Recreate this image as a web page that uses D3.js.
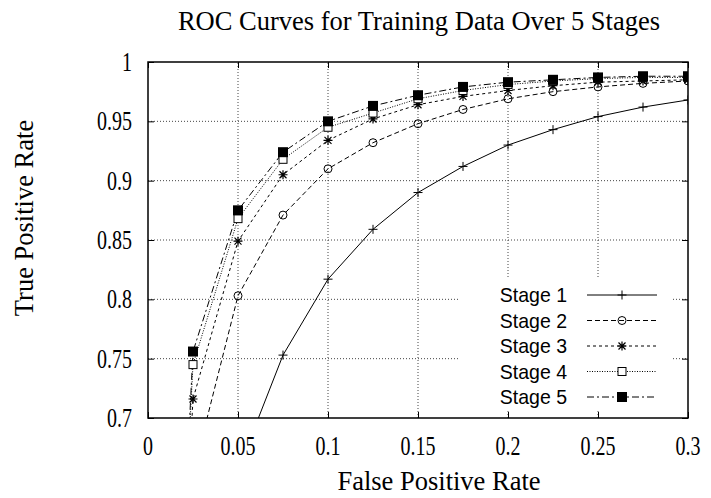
<!DOCTYPE html>
<html><head><meta charset="utf-8">
<script src="https://cdn.jsdelivr.net/npm/d3@7"></script>
<style>body{margin:0;background:#fff}svg{display:block}</style>
</head><body>
<script>
const fpr = [0, 0.025, 0.05, 0.075, 0.1, 0.125, 0.15, 0.175, 0.2, 0.225, 0.25, 0.275, 0.3];
const stage1 = [null, null, 0.656, 0.753, 0.817, 0.859, 0.890, 0.912, 0.930, 0.943, 0.954, 0.962, 0.968];
const stage2 = [0, 0.653, 0.803, 0.871, 0.910, 0.932, 0.948, 0.960, 0.969, 0.975, 0.979, 0.982, 0.984];
const stage3 = [0, 0.716, 0.849, 0.905, 0.934, 0.952, 0.964, 0.971, 0.976, 0.980, 0.983, 0.984, 0.985];
const stage4 = [0, 0.745, 0.868, 0.918, 0.945, 0.957, 0.969, 0.976, 0.981, 0.984, 0.986, 0.987, 0.987];
const stage5 = [0, 0.756, 0.875, 0.924, 0.950, 0.963, 0.972, 0.979, 0.983, 0.985, 0.987, 0.988, 0.988];
const seriesNames = ["Stage 1", "Stage 2", "Stage 3", "Stage 4", "Stage 5"];
const xTicks = [0, 0.05, 0.1, 0.15, 0.2, 0.25, 0.3];
const yTicks = [0.7, 0.75, 0.8, 0.85, 0.9, 0.95, 1];
const xTickLabels = ["0", "0.05", "0.1", "0.15", "0.2", "0.25", "0.3"];
const yTickLabels = ["0.7", "0.75", "0.8", "0.85", "0.9", "0.95", "1"];

const W = 711, H = 498;
const m = {left: 148, right: 711 - 688, top: 62, bottom: 498 - 418};
const svg = d3.select("body").append("svg").attr("width", W).attr("height", H);
const x = d3.scaleLinear().domain([0, 0.3]).range([m.left, W - m.right]);
const y = d3.scaleLinear().domain([0.7, 1]).range([H - m.bottom, m.top]);
const serif = "'Liberation Serif','Times New Roman',serif";
const sans = "'Liberation Sans',Arial,sans-serif";

// grid
const g = svg.append("g");
g.selectAll(".gx").data(xTicks.slice(1, -1)).join("line")
  .attr("x1", d => x(d)).attr("x2", d => x(d)).attr("y1", y(0.7)).attr("y2", y(1))
  .attr("stroke", "#444").attr("stroke-width", 1).attr("stroke-dasharray", "1,2");
g.selectAll(".gy").data(yTicks.slice(1, -1)).join("line")
  .attr("x1", x(0)).attr("x2", x(0.3)).attr("y1", d => y(d)).attr("y2", d => y(d))
  .attr("stroke", "#444").attr("stroke-width", 1).attr("stroke-dasharray", "1,2");

// axes (ticks inward, mirrored), labels drawn separately
const ax = (gen, tr) => svg.append("g").attr("transform", tr).call(gen)
  .call(s => s.select(".domain").remove());
ax(d3.axisBottom(x).tickValues(xTicks).tickSize(-6).tickFormat(""), `translate(0,${y(0.7)})`);
ax(d3.axisTop(x).tickValues(xTicks).tickSize(-6).tickFormat(""), `translate(0,${y(1)})`);
ax(d3.axisLeft(y).tickValues(yTicks).tickSize(-6).tickFormat(""), `translate(${x(0)},0)`);
ax(d3.axisRight(y).tickValues(yTicks).tickSize(-6).tickFormat(""), `translate(${x(0.3)},0)`);
svg.selectAll(".tick line").attr("stroke", "#000");

const TS = 20, TSY = 1.36;
svg.append("g").selectAll("text").data(xTicks).join("text")
  .attr("transform", d => `translate(${x(d)},455) scale(1,${TSY})`)
  .attr("text-anchor", "middle").attr("font-family", serif).attr("font-size", TS)
  .text((d, i) => xTickLabels[i]);
svg.append("g").selectAll("text").data(yTicks).join("text")
  .attr("transform", d => `translate(132,${y(d) + 9}) scale(1,${TSY})`)
  .attr("text-anchor", "end").attr("font-family", serif).attr("font-size", TS)
  .text((d, i) => yTickLabels[i]);

// clip
svg.append("clipPath").attr("id", "clip").append("rect")
  .attr("x", x(0)).attr("y", y(1)).attr("width", x(0.3) - x(0)).attr("height", y(0.7) - y(1));

const styles = [
  {dash: null, marker: "plus"},
  {dash: "5,3", marker: "circle"},
  {dash: "3,3", marker: "star"},
  {dash: "1,1.5", marker: "square"},
  {dash: "7,3,2,3", marker: "fsquare"}
];
const data = [stage1, stage2, stage3, stage4, stage5];

function drawMarker(sel, type, cx, cy) {
  const s = sel.append("g").attr("transform", `translate(${cx},${cy})`);
  if (type === "plus") {
    s.append("path").attr("d", "M-4.5,0H4.5M0,-4.5V4.5").attr("stroke", "#000").attr("stroke-width", 1).attr("fill", "none");
  } else if (type === "circle") {
    s.append("circle").attr("r", 4).attr("fill", "none").attr("stroke", "#000").attr("stroke-width", 1);
  } else if (type === "star") {
    s.append("path").attr("d", "M-4.5,0H4.5M0,-4.5V4.5M-3.5,-3.5L3.5,3.5M-3.5,3.5L3.5,-3.5").attr("stroke", "#000").attr("stroke-width", 1.2).attr("fill", "none");
  } else if (type === "square") {
    s.append("rect").attr("x", -4).attr("y", -4).attr("width", 8).attr("height", 8).attr("fill", "#fff").attr("stroke", "#000").attr("stroke-width", 1);
  } else {
    s.append("rect").attr("x", -5).attr("y", -5).attr("width", 10).attr("height", 10).attr("fill", "#000");
  }
}

const plot = svg.append("g").attr("clip-path", "url(#clip)");
data.forEach((vals, i) => {
  const pts = fpr.map((f, k) => [f, vals[k]]).filter(p => p[1] !== null);
  const line = d3.line().x(p => x(p[0])).y(p => y(p[1]));
  plot.append("path").attr("d", line(pts)).attr("fill", "none").attr("stroke", "#000")
    .attr("stroke-width", 1).attr("stroke-dasharray", styles[i].dash);
});
data.forEach((vals, i) => {
  fpr.forEach((f, k) => {
    if (vals[k] !== null && f > 0) drawMarker(plot, styles[i].marker, x(f), y(vals[k]));
  });
});

// legend
const leg = svg.append("g");
leg.append("rect").attr("x", 460).attr("y", 279).attr("width", 212).attr("height", 130).attr("fill", "#fff");
seriesNames.forEach((name, i) => {
  const yy = 295 + i * 25.5;
  leg.append("text").attr("transform", `translate(567,${yy + 7}) scale(1,1.06)`).attr("text-anchor", "end")
    .attr("font-family", sans).attr("font-size", 19.5).text(name);
  leg.append("line").attr("x1", 587).attr("x2", 657).attr("y1", yy).attr("y2", yy)
    .attr("stroke", "#000").attr("stroke-width", 1).attr("stroke-dasharray", styles[i].dash);
  drawMarker(leg, styles[i].marker, 622, yy);
});

// frame
svg.append("rect").attr("x", x(0)).attr("y", y(1)).attr("width", x(0.3) - x(0)).attr("height", y(0.7) - y(1))
  .attr("fill", "none").attr("stroke", "#000").attr("stroke-width", 1.5);

// titles
svg.append("text").attr("transform", "translate(419,30)").attr("text-anchor", "middle")
  .attr("font-family", serif).attr("font-size", 26.5).text("ROC Curves for Training Data Over 5 Stages");
svg.append("text").attr("transform", "translate(439,490)").attr("text-anchor", "middle")
  .attr("font-family", serif).attr("font-size", 26.5).text("False Positive Rate");
svg.append("text").attr("transform", "translate(33,218) rotate(-90)").attr("text-anchor", "middle")
  .attr("font-family", serif).attr("font-size", 26.5).text("True Positive Rate");
</script>
</body></html>
